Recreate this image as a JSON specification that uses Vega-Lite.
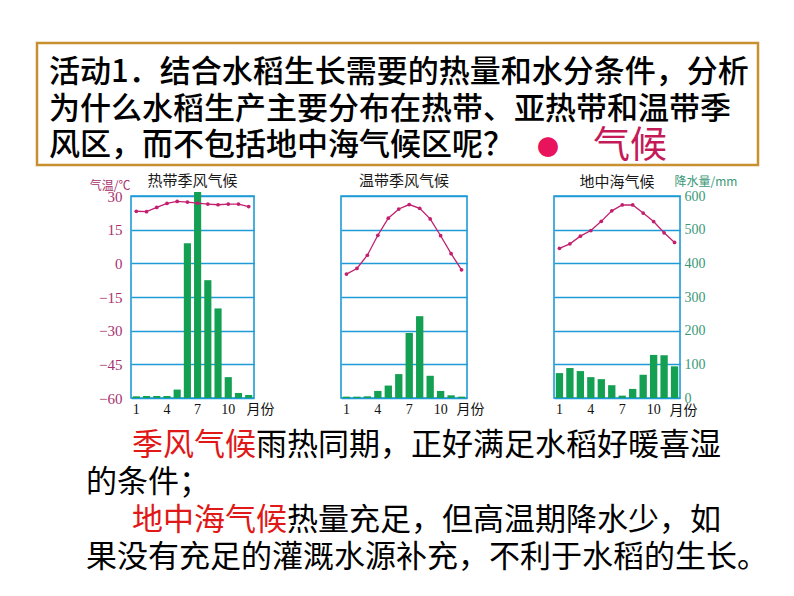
{
  "$schema": "https://vega.github.io/schema/vega-lite/v6.json",
  "background": "white",
  "padding": {"left": 35, "top": 41, "right": 5, "bottom": 5},
  "autosize": {"type": "pad"},
  "config": {"view": {"stroke": null}, "font": "Noto Sans CJK SC"},
  "datasets": {
    "box": [
      {"line": 1, "part": "q", "text": "活动1．结合水稻生长需要的热量和水分条件，分析"},
      {"line": 2, "part": "q", "text": "为什么水稻生产主要分布在热带、亚热带和温带季"},
      {"line": 3, "part": "q", "text": "风区，而不包括地中海气候区呢？"},
      {"line": 3, "part": "bullet", "text": "●"},
      {"line": 3, "part": "kw", "text": "气候"}
    ],
    "note": [
      {"line": 1, "type": "lead", "kind": "hl", "text": "季风气候"},
      {"line": 1, "type": "after4", "kind": "plain", "text": "雨热同期，正好满足水稻好暖喜湿"},
      {"line": 2, "type": "cont", "kind": "plain", "text": "的条件；"},
      {"line": 3, "type": "lead", "kind": "hl", "text": "地中海气候"},
      {"line": 3, "type": "after5", "kind": "plain", "text": "热量充足，但高温期降水少，如"},
      {"line": 4, "type": "cont", "kind": "plain", "text": "果没有充足的灌溉水源补充，不利于水稻的生长。"}
    ],
    "clim": [
      {"climate": "热带季风气候", "month": 1, "temp": 23.2, "precip": 5},
      {"climate": "热带季风气候", "month": 2, "temp": 23.0, "precip": 6},
      {"climate": "热带季风气候", "month": 3, "temp": 24.9, "precip": 6},
      {"climate": "热带季风气候", "month": 4, "temp": 26.7, "precip": 6},
      {"climate": "热带季风气候", "month": 5, "temp": 27.6, "precip": 25},
      {"climate": "热带季风气候", "month": 6, "temp": 27.3, "precip": 460},
      {"climate": "热带季风气候", "month": 7, "temp": 26.8, "precip": 612},
      {"climate": "热带季风气候", "month": 8, "temp": 26.4, "precip": 350},
      {"climate": "热带季风气候", "month": 9, "temp": 26.1, "precip": 266},
      {"climate": "热带季风气候", "month": 10, "temp": 26.4, "precip": 62},
      {"climate": "热带季风气候", "month": 11, "temp": 26.4, "precip": 15},
      {"climate": "热带季风气候", "month": 12, "temp": 25.3, "precip": 9},
      {"climate": "温带季风气候", "month": 1, "temp": -4.8, "precip": 4},
      {"climate": "温带季风气候", "month": 2, "temp": -2.3, "precip": 4},
      {"climate": "温带季风气候", "month": 3, "temp": 3.6, "precip": 5},
      {"climate": "温带季风气候", "month": 4, "temp": 12.5, "precip": 21},
      {"climate": "温带季风气候", "month": 5, "temp": 20.1, "precip": 37},
      {"climate": "温带季风气候", "month": 6, "temp": 24.2, "precip": 71},
      {"climate": "温带季风气候", "month": 7, "temp": 26.2, "precip": 193},
      {"climate": "温带季风气候", "month": 8, "temp": 24.5, "precip": 243},
      {"climate": "温带季风气候", "month": 9, "temp": 19.8, "precip": 66},
      {"climate": "温带季风气候", "month": 10, "temp": 12.3, "precip": 21},
      {"climate": "温带季风气候", "month": 11, "temp": 4.3, "precip": 8},
      {"climate": "温带季风气候", "month": 12, "temp": -2.9, "precip": 4},
      {"climate": "地中海气候", "month": 1, "temp": 6.7, "precip": 74},
      {"climate": "地中海气候", "month": 2, "temp": 8.7, "precip": 89},
      {"climate": "地中海气候", "month": 3, "temp": 12.1, "precip": 80},
      {"climate": "地中海气候", "month": 4, "temp": 14.6, "precip": 62},
      {"climate": "地中海气候", "month": 5, "temp": 18.7, "precip": 56},
      {"climate": "地中海气候", "month": 6, "temp": 23.4, "precip": 38},
      {"climate": "地中海气候", "month": 7, "temp": 26.0, "precip": 7},
      {"climate": "地中海气候", "month": 8, "temp": 26.0, "precip": 27},
      {"climate": "地中海气候", "month": 9, "temp": 22.4, "precip": 69},
      {"climate": "地中海气候", "month": 10, "temp": 18.6, "precip": 128},
      {"climate": "地中海气候", "month": 11, "temp": 13.6, "precip": 127},
      {"climate": "地中海气候", "month": 12, "temp": 9.3, "precip": 94}
    ]
  },
  "bounds": "flush",
  "spacing": 31,
  "vconcat": [
    {
      "width": 721,
      "height": 122,
      "view": {"stroke": "#C8902E", "strokeWidth": 2.5},
      "data": {"name": "box"},
      "encoding": {
        "x": {"value": 0},
        "y": {"field": "line", "type": "ordinal", "scale": {"type": "point", "padding": 0, "range": [30, 103]}, "axis": null},
        "text": {"field": "text"}
      },
      "layer": [
        {
          "transform": [{"filter": "datum.part === 'q'"}],
          "mark": {"type": "text", "align": "left", "baseline": "middle", "fontSize": 31, "fontWeight": 500, "color": "#000000", "dx": 12}
        },
        {
          "transform": [{"filter": "datum.part === 'bullet'"}],
          "mark": {"type": "text", "align": "center", "baseline": "middle", "fontSize": 22, "color": "#E8135C", "dx": 511, "dy": 2}
        },
        {
          "transform": [{"filter": "datum.part === 'kw'"}],
          "mark": {"type": "text", "align": "left", "baseline": "middle", "fontSize": 37, "color": "#C41A58", "dx": 556, "dy": 1}
        }
      ]
    },
    {
      "bounds": "flush",
      "spacing": 87,
      "hconcat": [
        {
          "width": 7,
          "height": 10,
          "data": {"name": "box"},
          "mark": {"type": "text"},
          "encoding": {"text": {"value": ""}}
        },
        {
          "width": 123,
          "height": 202,
          "data": {"name": "clim"},
          "transform": [{"filter": "datum.climate === '热带季风气候'"}],
          "title": {"text": "热带季风气候", "fontSize": 15, "fontWeight": "normal", "color": "#1a1a1a", "offset": -10},
          "view": {"stroke": "#1E9BD6", "strokeWidth": 1.6},
          "encoding": {
            "x": {
              "field": "month", "type": "ordinal",
              "scale": {"paddingInner": 0.3, "paddingOuter": 0.17},
              "axis": {"values": [1, 4, 7, 10], "labelAngle": 0, "ticks": false, "domain": false, "labelFont": "Liberation Serif", "labelFontSize": 14, "labelColor": "#111111", "labelPadding": 4, "title": "月份", "titleAngle": 0, "titleAlign": "left", "titleBaseline": "middle", "titleX": 115, "titleY": 11, "titleFontSize": 14, "titleFontWeight": "normal", "titleColor": "#111111"}
            }
          },
          "layer": [
            {
              "mark": {"type": "bar", "color": "#14A052"},
              "encoding": {"y": {"field": "precip", "type": "quantitative", "scale": {"domain": [0, 600], "nice": false}, "axis": {"orient": "right", "values": [0, 100, 200, 300, 400, 500, 600], "grid": true, "gridColor": "#1E9BD6", "gridWidth": 1.6, "labels": false, "ticks": false, "domain": false, "title": null}}}
            },
            {
              "mark": {"type": "line", "color": "#C2206E", "strokeWidth": 1.3, "point": {"filled": true, "size": 14, "color": "#C2206E"}},
              "encoding": {"y": {"field": "temp", "type": "quantitative", "scale": {"domain": [-60, 30], "nice": false, "zero": false}, "axis": {"orient": "left", "values": [-60, -45, -30, -15, 0, 15, 30], "grid": false, "ticks": false, "domain": false, "labelFont": "Liberation Serif", "labelFontSize": 15, "labelColor": "#A8306E", "labelPadding": 9, "title": "气温/℃", "titleAngle": 0, "titleAlign": "right", "titleBaseline": "middle", "titleX": -1, "titleY": -11, "titleFontSize": 12, "titleFontWeight": "normal", "titleColor": "#A8306E"}}}
            }
          ],
          "resolve": {"scale": {"y": "independent"}}
        },
        {
          "width": 126,
          "height": 202,
          "data": {"name": "clim"},
          "transform": [{"filter": "datum.climate === '温带季风气候'"}],
          "title": {"text": "温带季风气候", "fontSize": 15, "fontWeight": "normal", "color": "#1a1a1a", "offset": 7},
          "view": {"stroke": "#1E9BD6", "strokeWidth": 1.6},
          "encoding": {
            "x": {
              "field": "month", "type": "ordinal",
              "scale": {"paddingInner": 0.3, "paddingOuter": 0.17},
              "axis": {"values": [1, 4, 7, 10], "labelAngle": 0, "ticks": false, "domain": false, "labelFont": "Liberation Serif", "labelFontSize": 14, "labelColor": "#111111", "labelPadding": 4, "title": "月份", "titleAngle": 0, "titleAlign": "left", "titleBaseline": "middle", "titleX": 115, "titleY": 11, "titleFontSize": 14, "titleFontWeight": "normal", "titleColor": "#111111"}
            }
          },
          "layer": [
            {
              "mark": {"type": "bar", "color": "#14A052"},
              "encoding": {"y": {"field": "precip", "type": "quantitative", "scale": {"domain": [0, 600], "nice": false}, "axis": {"orient": "right", "values": [0, 100, 200, 300, 400, 500, 600], "grid": true, "gridColor": "#1E9BD6", "gridWidth": 1.6, "labels": false, "ticks": false, "domain": false, "title": null}}}
            },
            {
              "mark": {"type": "line", "color": "#C2206E", "strokeWidth": 1.3, "point": {"filled": true, "size": 14, "color": "#C2206E"}},
              "encoding": {"y": {"field": "temp", "type": "quantitative", "scale": {"domain": [-60, 30], "nice": false, "zero": false}, "axis": null}}
            }
          ],
          "resolve": {"scale": {"y": "independent"}}
        },
        {
          "width": 126,
          "height": 202,
          "data": {"name": "clim"},
          "transform": [{"filter": "datum.climate === '地中海气候'"}],
          "title": {"text": "地中海气候", "fontSize": 15, "fontWeight": "normal", "color": "#1a1a1a", "offset": -15},
          "view": {"stroke": "#1E9BD6", "strokeWidth": 1.6},
          "encoding": {
            "x": {
              "field": "month", "type": "ordinal",
              "scale": {"paddingInner": 0.3, "paddingOuter": 0.17},
              "axis": {"values": [1, 4, 7, 10], "labelAngle": 0, "ticks": false, "domain": false, "labelFont": "Liberation Serif", "labelFontSize": 14, "labelColor": "#111111", "labelPadding": 4, "title": "月份", "titleAngle": 0, "titleAlign": "left", "titleBaseline": "middle", "titleX": 115, "titleY": 12, "titleFontSize": 14, "titleFontWeight": "normal", "titleColor": "#111111"}
            }
          },
          "layer": [
            {
              "mark": {"type": "bar", "color": "#14A052"},
              "encoding": {"y": {"field": "precip", "type": "quantitative", "scale": {"domain": [0, 600], "nice": false}, "axis": {"orient": "right", "values": [0, 100, 200, 300, 400, 500, 600], "grid": true, "gridColor": "#1E9BD6", "gridWidth": 1.6, "labels": true, "ticks": false, "domain": false, "labelFont": "Liberation Serif", "labelFontSize": 14, "labelColor": "#3A9878", "labelPadding": 4, "title": "降水量/mm", "titleAngle": 0, "titleAlign": "left", "titleBaseline": "middle", "titleX": -6, "titleY": -15, "titleFontSize": 12, "titleFontWeight": "normal", "titleColor": "#3A9878"}}}
            },
            {
              "mark": {"type": "line", "color": "#C2206E", "strokeWidth": 1.3, "point": {"filled": true, "size": 14, "color": "#C2206E"}},
              "encoding": {"y": {"field": "temp", "type": "quantitative", "scale": {"domain": [-60, 30], "nice": false, "zero": false}, "axis": null}}
            }
          ],
          "resolve": {"scale": {"y": "independent"}}
        }
      ]
    },
    {
      "width": 721,
      "height": 340,
      "data": {"name": "note"},
      "encoding": {
        "x": {"value": 0},
        "y": {"field": "line", "type": "ordinal", "scale": {"type": "point", "padding": 0, "range": [219, 331]}, "axis": null},
        "text": {"field": "text"},
        "color": {"field": "kind", "type": "nominal", "scale": {"domain": ["hl", "plain"], "range": ["#E01818", "#000000"]}, "legend": null}
      },
      "layer": [
        {
          "transform": [{"filter": "datum.type === 'lead'"}],
          "mark": {"type": "text", "align": "left", "baseline": "middle", "fontSize": 31, "dx": 95}
        },
        {
          "transform": [{"filter": "datum.type === 'after4'"}],
          "mark": {"type": "text", "align": "left", "baseline": "middle", "fontSize": 31, "dx": 219}
        },
        {
          "transform": [{"filter": "datum.type === 'after5'"}],
          "mark": {"type": "text", "align": "left", "baseline": "middle", "fontSize": 31, "dx": 250}
        },
        {
          "transform": [{"filter": "datum.type === 'cont'"}],
          "mark": {"type": "text", "align": "left", "baseline": "middle", "fontSize": 31, "dx": 49}
        }
      ]
    }
  ]
}
